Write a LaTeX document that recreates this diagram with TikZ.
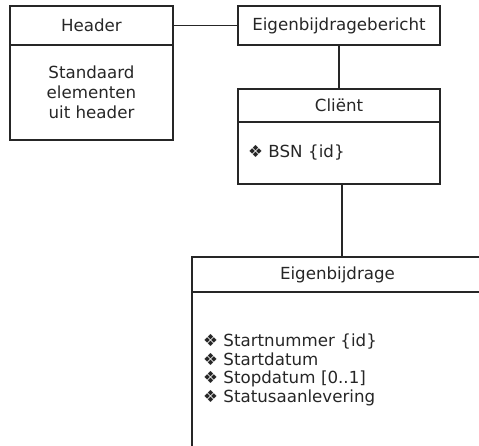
\documentclass[tikz,border=0pt]{standalone}
\usepackage{fontspec}
\setmainfont{DejaVu Sans}
\usetikzlibrary{positioning}
\begin{document}
\begin{tikzpicture}[x=0.75pt,y=-0.75pt,
        box/.style={draw=black!85,line width=0.9pt,outer sep=0pt,inner sep=0pt,text=black!85,font=\fontsize{12.5}{15}\selectfont},
        link/.style={draw=black!85,line width=0.9pt}]
    \useasboundingbox (0,0) rectangle (479,446);
    \clip (0,0) rectangle (479,446);
    \node[box,minimum width=122.25pt,minimum height=29.25pt,anchor=north west] (hdr) at (10,6) {Header};
    \node[box,minimum width=122.25pt,minimum height=71.25pt,align=center,below=0pt of hdr] (hdrbody) {Standaard\\elementen\\uit header};
    \node[box,minimum width=151.5pt,minimum height=29.25pt,anchor=north west] (bericht) at (238,6) {Eigenbijdragebericht};
    \node[box,minimum width=151.5pt,minimum height=24.75pt,anchor=north west] (client) at (238,89) {Cliënt};
    \node[box,minimum height=46.5pt,inner xsep=7.5pt,text width=136.5pt,align=left,below=0pt of client] (clientbody) {❖ BSN \{id\}};
    \node[box,minimum width=218.25pt,minimum height=26.25pt,anchor=north west] (bijdrage) at (192,257) {Eigenbijdrage};
    \node[box,minimum height=117pt,inner xsep=8.25pt,text width=201.75pt,align=left,font=\fontsize{12.5}{13.9}\selectfont,below=0pt of bijdrage] (bijdragebody) {❖ Startnummer \{id\}\\❖ Startdatum\\❖ Stopdatum [0..1]\\❖ Statusaanlevering};
    \draw[link] (hdr) -- (bericht);
    \draw[link] (bericht) -- (client);
    \draw[link] ([xshift=2.25pt]clientbody.south) -- ([xshift=2.25pt]clientbody.south |- bijdrage.north);
\end{tikzpicture}
\end{document}
